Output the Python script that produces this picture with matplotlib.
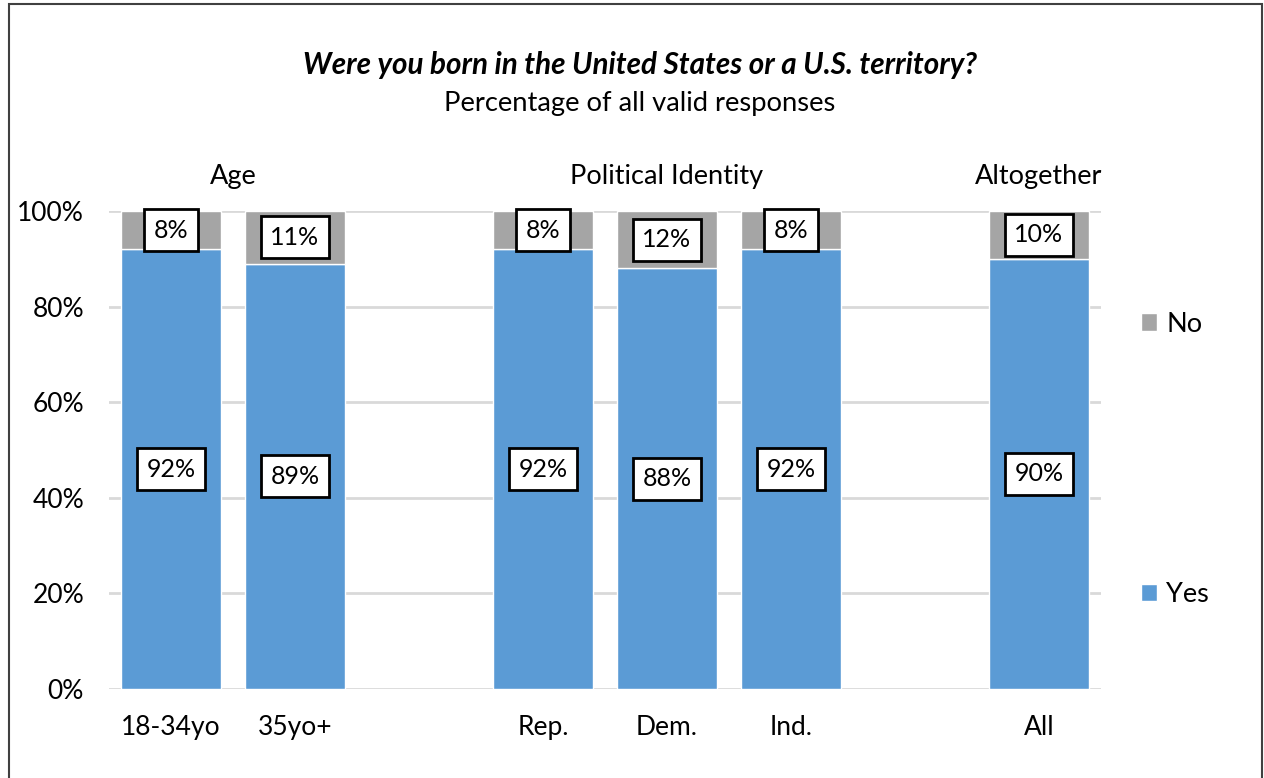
import matplotlib.pyplot as plt
from matplotlib.patches import Rectangle

plt.rcParams['font.family'] = ['Lato', 'DejaVu Sans']

# survey results by subgroup (None = spacer slot between groups)
categories = ['18-34yo', '35yo+', '', 'Rep.', 'Dem.', 'Ind.', '', 'All']
yes_pct = [92, 89, None, 92, 88, 92, None, 90]
no_pct = [8, 11, None, 8, 12, 8, None, 10]
groups = ['Age', 'Political Identity', 'Altogether']
group_centers = [0.5, 4, 7]

blue = '#5b9bd5'
grey = '#a5a5a5'

fig = plt.figure(figsize=(12.64, 7.78), dpi=100)
ax = fig.add_axes([109 / 1264, 1 - 689 / 778, (1101 - 109) / 1264, (689 - 211) / 778])

xs = [i for i, v in enumerate(yes_pct) if v is not None]
ys = [v for v in yes_pct if v is not None]
ns = [v for v in no_pct if v is not None]

ax.bar(xs, ys, width=0.81, color=blue, edgecolor='white', linewidth=1, label='Yes', zorder=2)
ax.bar(xs, ns, width=0.81, bottom=ys, color=grey, edgecolor='white', linewidth=1, label='No', zorder=2)

box = dict(boxstyle='square,pad=0.38', facecolor='white', edgecolor='black', linewidth=2)
for x, y, n in zip(xs, ys, ns):
    ax.text(x, y / 2, f'{y}%', ha='center', va='center', fontsize=18, bbox=box, zorder=3)
    ax.text(x, y + n / 2, f'{n}%', ha='center', va='center', fontsize=18, bbox=box, zorder=3)

ax.set_xlim(-0.5, 7.5)
ax.set_ylim(0, 100)
ax.set_yticks(range(0, 101, 20))
ax.set_yticklabels([f'{t}%' for t in range(0, 101, 20)])
ax.set_xticks(range(len(categories)))
ax.set_xticklabels(categories)
ax.tick_params(axis='both', length=0, labelsize=19, colors='black')
ax.tick_params(axis='x', pad=19)
ax.tick_params(axis='y', pad=18)
ax.grid(axis='y', color='#d9d9d9', linewidth=2, zorder=0)
ax.set_axisbelow(True)
for s in ax.spines.values():
    s.set_visible(False)

for g, c in zip(groups, group_centers):
    ax.text(c, 104.5, g, ha='center', va='bottom', fontsize=19.5)

handles, labels = ax.get_legend_handles_labels()
leg = fig.legend(handles[::-1], labels[::-1], loc='upper left', bbox_to_anchor=(1127 / 1264, 1 - 298 / 778),
                 frameon=False, fontsize=19.5, handlelength=0.6, handleheight=0.6, handletextpad=0.35,
                 labelspacing=9.05, borderpad=0)

fig.text(0.506, 1 - 65 / 778, 'Were you born in the United States or a U.S. territory?',
         ha='center', va='center', fontsize=21.3, fontweight='bold', fontstyle='italic')
fig.text(0.506, 1 - 103 / 778, 'Percentage of all valid responses', ha='center', va='center', fontsize=19.7)

# outer frame
fig.patches.append(Rectangle((9 / 1264, -0.05), (1262 - 9) / 1264, 1.05 - 4 / 778,
                             transform=fig.transFigure, fill=False, edgecolor='#404040', linewidth=1.5))

fig.savefig('out.png', dpi=100)
